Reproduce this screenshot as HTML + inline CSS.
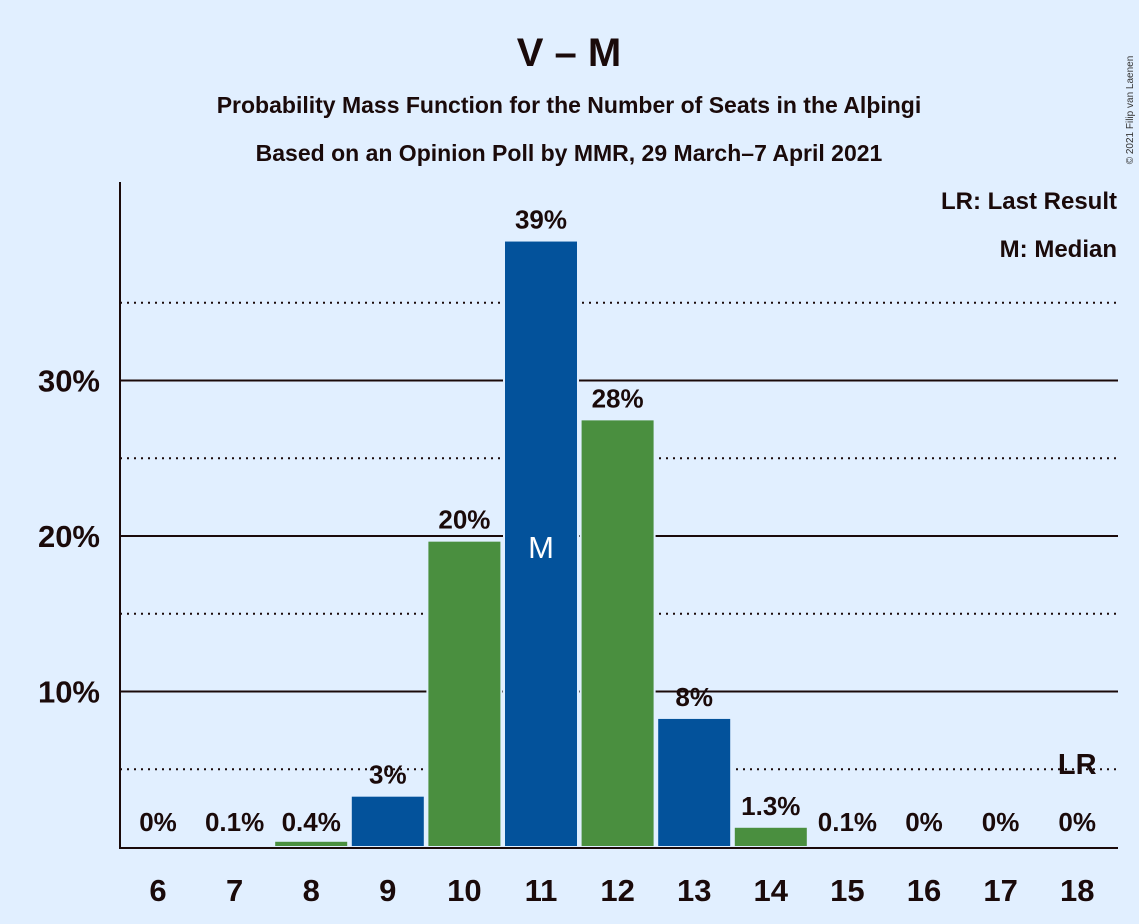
<!DOCTYPE html>
<html><head><meta charset="utf-8"><style>
body{margin:0;background:#e1efff;}
svg{display:block;font-family:"Liberation Sans",sans-serif;}
</style></head><body>
<svg id="c" width="1139" height="924">
<rect width="1139" height="924" fill="#e1efff"/>
<text x="569" y="66" text-anchor="middle" font-size="40" font-weight="bold" fill="#1a0a0a">V – M</text>
<text x="569" y="113" text-anchor="middle" font-size="23" font-weight="bold" fill="#1a0a0a">Probability Mass Function for the Number of Seats in the Alþingi</text>
<text x="569" y="161" text-anchor="middle" font-size="23" font-weight="bold" fill="#1a0a0a">Based on an Opinion Poll by MMR, 29 March–7 April 2021</text>
<text x="1133" y="110" font-size="10" fill="#333" transform="rotate(-90 1133 110)" text-anchor="middle">© 2021 Filip van Laenen</text>
<text x="1117" y="209" text-anchor="end" font-size="24" font-weight="bold" fill="#1a0a0a">LR: Last Result</text>
<text x="1117" y="257" text-anchor="end" font-size="24" font-weight="bold" fill="#1a0a0a">M: Median</text>
<g id="grid"></g><g id="bars"></g><g id="labels"></g>
<line x1="120" y1="182" x2="120" y2="848" stroke="#1a0a0a" stroke-width="2"/>
<line x1="119" y1="848" x2="1118" y2="848" stroke="#1a0a0a" stroke-width="2"/>
</svg>
<script>
const seats=[6,7,8,9,10,11,12,13,14,15,16,17,18];
const probs=[0,0.1,0.4,3.3,19.7,39.0,27.5,8.3,1.3,0.1,0,0,0];
const valueLabels=["0%","0.1%","0.4%","3%","20%","39%","28%","8%","1.3%","0.1%","0%","0%","0%"];
const yTicks=[10,20,30];
const yMinor=[5,15,25,35];
const medianSeat=11, lastResultSeat=18;
const NS="http://www.w3.org/2000/svg";
const y=v=>847-v*15.55;
const x=s=>158+(s-6)*76.6;
function mk(tag,attrs,parent,txt){const e=document.createElementNS(NS,tag);for(const k in attrs)e.setAttribute(k,attrs[k]);if(txt!==undefined)e.textContent=txt;parent.appendChild(e);return e;}
const G=document.getElementById('grid'),B=document.getElementById('bars'),L=document.getElementById('labels');
yMinor.forEach(v=>{const l=mk('line',{x1:120,x2:1118,y1:y(v),y2:y(v),stroke:'#1a0a0a','stroke-width':2,'stroke-dasharray':'2,5'},G);

});
yTicks.forEach(v=>{const l=mk('line',{x1:120,x2:1118,y1:y(v),y2:y(v),stroke:'#1a0a0a','stroke-width':2},G);


const t=mk('text',{x:100,y:y(v)+11,'text-anchor':'end','font-size':31,'font-weight':'bold',fill:'#1a0a0a'},G,v+'%');

});
seats.forEach((s,i)=>{const col=(s%2===0)?'#4a8f3f':'#03529b';const h=probs[i]*15.55;
if(h>0){const r=mk('rect',{x:x(s)-37,y:847-h,width:74,height:h,fill:col,stroke:'#e1efff','stroke-width':2},B);

}
const t=mk('text',{x:x(s),y:y(probs[i])-12,'text-anchor':'middle','font-size':26,'font-weight':'bold',fill:'#1a0a0a'},L,valueLabels[i]);
if(probs[i]<1)t.setAttribute('y',831);


const xl=mk('text',{x:x(s),y:901,'text-anchor':'middle','font-size':31,'font-weight':'bold',fill:'#1a0a0a'},L,String(s));


if(s===medianSeat){const m=mk('text',{x:x(s),y:558,'text-anchor':'middle','font-size':31,fill:'#fff'},L,'M');

}
if(s===lastResultSeat){const m=mk('text',{x:x(s),y:774,'text-anchor':'middle','font-size':29,'font-weight':'bold',fill:'#1a0a0a'},L,'LR');

}
});
</script>
</body></html>
